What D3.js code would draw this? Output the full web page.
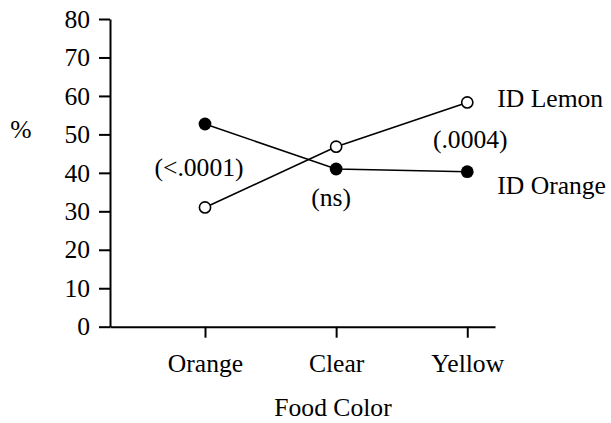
<!DOCTYPE html>
<html>
<head>
<meta charset="utf-8">
<script src="https://cdn.jsdelivr.net/npm/d3@7"></script>
<style>
  body { margin: 0; background: #fff; }
  text { font-family: "Liberation Serif", "Times New Roman", serif; fill: #000; }
</style>
</head>
<body>
<svg id="chart" width="611" height="423"></svg>
<script>
// data
var categories = ["Orange", "Clear", "Yellow"];
var lemonValues = [31.0, 46.8, 58.3];   // ID Lemon (open circles)
var orangeValues = [52.7, 41.0, 40.3];  // ID Orange (filled circles)
var pLabels = ["(<.0001)", "(ns)", "(.0004)"];
var yTicks = [0, 10, 20, 30, 40, 50, 60, 70, 80];
var seriesNames = ["ID Lemon", "ID Orange"];

var svg = d3.select("#chart");
var fontSize = 25.6;

var x = d3.scalePoint()
    .domain(categories)
    .range([110, 495])
    .padding(0.468)
    .align(0.774);

var y = d3.scaleLinear()
    .domain([0, 80])
    .range([326.7, 19]);

// y axis
var yAxis = svg.append("g")
    .attr("transform", "translate(110,0)")
    .call(d3.axisLeft(y).tickValues(yTicks).tickSize(11).tickSizeOuter(0).tickPadding(9));
yAxis.selectAll("text").attr("font-size", fontSize).attr("font-family", null);
yAxis.selectAll("line,path").attr("stroke", "#000").attr("stroke-width", 2);

// x axis
var xAxis = svg.append("g")
    .attr("transform", "translate(0," + y(0) + ")")
    .call(d3.axisBottom(x).tickSize(11).tickSizeOuter(0).tickPadding(16));
xAxis.selectAll("text").attr("font-size", fontSize).attr("font-family", null);
xAxis.selectAll("line,path").attr("stroke", "#000").attr("stroke-width", 2);

// axis titles
svg.append("text")
    .attr("x", 21).attr("y", 138)
    .attr("text-anchor", "middle")
    .attr("font-size", fontSize)
    .text("%");

svg.append("text")
    .attr("x", 333).attr("y", 416)
    .attr("text-anchor", "middle")
    .attr("font-size", fontSize)
    .text("Food Color");

// lines
var line = d3.line()
    .x(function(d, i) { return x(categories[i]); })
    .y(function(d) { return y(d); });

svg.append("path")
    .datum(lemonValues)
    .attr("d", line)
    .attr("fill", "none")
    .attr("stroke", "#000")
    .attr("stroke-width", 1.6);

svg.append("path")
    .datum(orangeValues)
    .attr("d", line)
    .attr("fill", "none")
    .attr("stroke", "#000")
    .attr("stroke-width", 1.6);

// markers
svg.append("g").selectAll("circle")
    .data(lemonValues)
    .enter().append("circle")
    .attr("cx", function(d, i) { return x(categories[i]); })
    .attr("cy", function(d) { return y(d); })
    .attr("r", 5.6)
    .attr("fill", "#fff")
    .attr("stroke", "#000")
    .attr("stroke-width", 1.6);

svg.append("g").selectAll("circle")
    .data(orangeValues)
    .enter().append("circle")
    .attr("cx", function(d, i) { return x(categories[i]); })
    .attr("cy", function(d) { return y(d); })
    .attr("r", 6.4)
    .attr("fill", "#000");

// p-value labels: between the two points, or under them when they are close
svg.append("g").selectAll("text")
    .data(pLabels)
    .enter().append("text")
    .attr("font-size", fontSize)
    .attr("text-anchor", "middle")
    .attr("x", function(d, i) { return x(categories[i]) + (i == 0 ? -6 : (i == 1 ? -5 : 3)); })
    .attr("y", function(d, i) {
        var a = lemonValues[i], b = orangeValues[i];
        if (Math.abs(a - b) < 8) return y(Math.min(a, b)) + 37;
        return (y(a) + y(b)) / 2 + 10.5;
    })
    .text(function(d) { return d; });

// series labels at the right end
var last = categories.length - 1;
svg.append("text")
    .attr("x", x(categories[last]) + 30)
    .attr("y", y(lemonValues[last]) + 4.5)
    .attr("font-size", fontSize)
    .text(seriesNames[0]);

svg.append("text")
    .attr("x", x(categories[last]) + 30)
    .attr("y", y(orangeValues[last]) + 22)
    .attr("font-size", fontSize)
    .text(seriesNames[1]);
</script>
</body>
</html>
